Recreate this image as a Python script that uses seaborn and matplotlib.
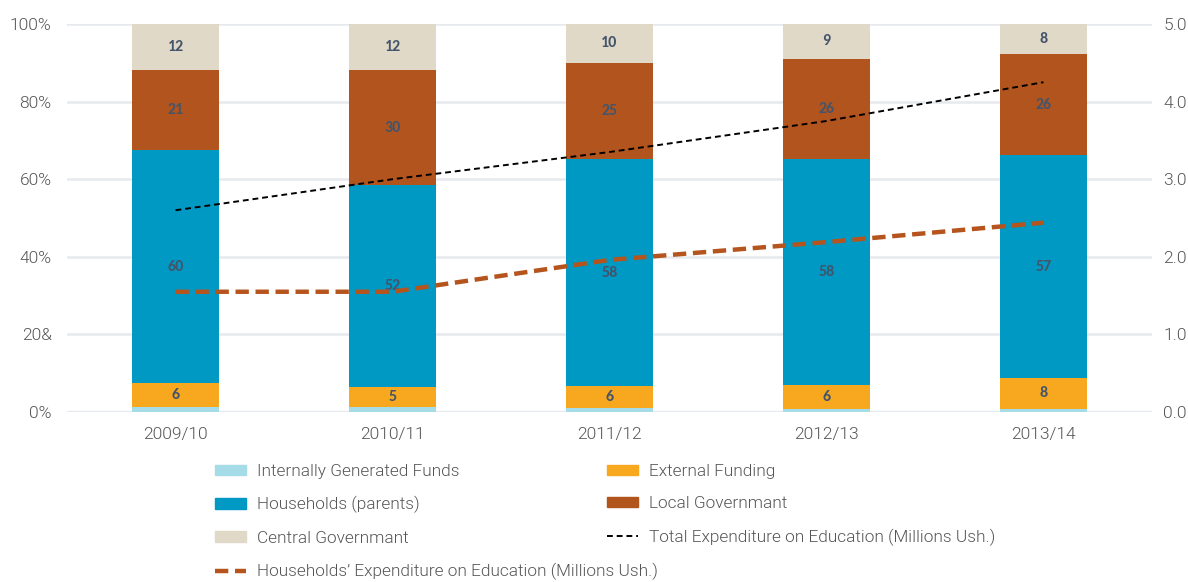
import numpy as np
import pandas as pd
import matplotlib
matplotlib.use("Agg")
import matplotlib.pyplot as plt
import seaborn as sns
from matplotlib.patches import Patch
from matplotlib.lines import Line2D

years = ["2009/10", "2010/11", "2011/12", "2012/13", "2013/14"]
internal = [1.2, 1.3, 1.0, 0.8, 0.8]
external = [6.3, 5.1, 5.7, 6.2, 8.0]
households = [60.0, 52.1, 58.5, 58.2, 57.4]
local_gov = [20.6, 29.6, 24.8, 25.8, 26.1]
central_gov = [11.9, 11.9, 10.0, 9.0, 7.7]
total_exp = [2.60, 3.00, 3.35, 3.75, 4.25]
hh_exp = [1.55, 1.55, 1.96, 2.19, 2.44]
left_ticks = ["0%", "20&", "40%", "60%", "80%", "100%"]
right_ticks = ["0.0", "1.0", "2.0", "3.0", "4.0", "5.0"]

sns.set_theme(style="white")
plt.rcParams['font.family'] = ['Roboto', 'DejaVu Sans']
plt.rcParams['font.weight'] = 300

names = ["Internally Generated Funds", "External Funding", "Households (parents)",
         "Local Governmant", "Central Governmant"]
colors = ["#a6dbe8", "#f7a81e", "#0099c3", "#b2541e", "#e0d9c8"]
series = [internal, external, households, local_gov, central_gov]

cum = np.zeros(len(years))
cums = []
for s in series:
    cum = cum + np.array(s)
    cums.append(cum.copy())

fig = plt.figure(figsize=(11.88, 5.82), dpi=100)
ax = fig.add_axes([0.0564, 0.292, 0.9697 - 0.0564, 0.9588 - 0.292])

gray = "#555555"
grid_c = "#e6e9ee"
for yv in range(0, 101, 20):
    ax.axhline(yv, color=grid_c, lw=2.4 if yv == 0 else 1.8, zorder=0)

# stacked bars drawn from the top segment down (cumulative heights)
for i in range(len(series) - 1, -1, -1):
    d = pd.DataFrame({"year": years, "val": cums[i]})
    sns.barplot(data=d, x="year", y="val", color=colors[i], width=0.4,
                saturation=1, ax=ax, zorder=2, errorbar=None,
                linewidth=0, edgecolor="none")

lab_c = "#44546a"
for i in range(1, len(series)):
    for j in range(len(years)):
        bottom = cums[i][j] - series[i][j]
        yc = bottom + series[i][j] / 2
        ax.text(j, yc, f"{series[i][j]:.0f}", ha="center", va="center",
                fontsize=11.5, fontweight="bold", color=lab_c,
                family=["Carlito", "Open Sans", "DejaVu Sans"], zorder=5)

ax.set_xlim(-0.5, 4.5)
ax.set_ylim(0, 100)
ax.set_yticks(range(0, 101, 20))
ax.set_yticklabels(left_ticks)
ax.set_xlabel("")
ax.set_ylabel("")
ax.tick_params(axis="both", length=0, labelsize=12.5, colors=gray)
ax.tick_params(axis="x", pad=11)
ax.tick_params(axis="y", pad=11)
for sp in ax.spines.values():
    sp.set_visible(False)

ax2 = ax.twinx()
xs = list(range(len(years)))
sns.lineplot(x=xs, y=total_exp, ax=ax2, color="black", lw=1.4, zorder=6)
ax2.lines[-1].set_dashes([3, 2])
sns.lineplot(x=xs, y=hh_exp, ax=ax2, color="#b5541c", lw=3.2, zorder=6)
ax2.lines[-1].set_dashes([3, 1.5])
ax2.set_ylim(0, 5)
ax2.set_xlim(-0.5, 4.5)
ax2.set_yticks(range(6))
ax2.set_yticklabels(right_ticks)
ax2.tick_params(axis="y", length=0, labelsize=12.5, colors=gray, pad=8)
for sp in ax2.spines.values():
    sp.set_visible(False)
ax2.grid(False)

h_int = Patch(color=colors[0])
h_ext = Patch(color=colors[1])
h_hh = Patch(color=colors[2])
h_loc = Patch(color=colors[3])
h_cen = Patch(color=colors[4])
h_tot = Line2D([], [], color="black", lw=1.4, dashes=[3, 2])
h_hhe = Line2D([], [], color="#b5541c", lw=3.2, dashes=[3, 1.5])

leg_kw = dict(frameon=False, fontsize=12.4, labelcolor=gray, handlelength=1.8,
              handleheight=0.55, handletextpad=0.62, labelspacing=1.0,
              borderaxespad=0, borderpad=0)
leg1 = fig.legend([h_int, h_hh, h_cen, h_hhe],
                  [names[0], names[2], names[4],
                   "Households\u2019 Expenditure on Education (Millions Ush.)"],
                  loc="upper left", bbox_to_anchor=(215 / 1188, 1 - 464 / 582), **leg_kw)
leg2 = fig.legend([h_ext, h_loc, h_tot],
                  [names[1], names[3], "Total Expenditure on Education (Millions Ush.)"],
                  loc="upper left", bbox_to_anchor=(607 / 1188, 1 - 464 / 582), **leg_kw)

fig.savefig("out.png", dpi=100)
